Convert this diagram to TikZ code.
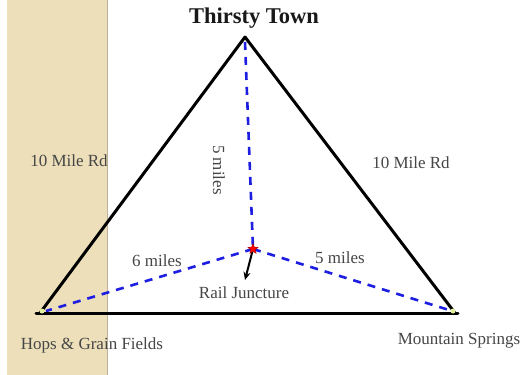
\documentclass[tikz,border=0pt]{standalone}
\usepackage{fontspec}
\setmainfont{Liberation Serif}
\usetikzlibrary{shapes.geometric,arrows.meta}
\definecolor{tan}{RGB}{236,223,186}
\definecolor{roadblue}{RGB}{30,30,225}
\definecolor{labelgray}{RGB}{70,70,70}
\tikzset{
  road/.style={line width=3pt, black, line cap=round, line join=round},
  rail/.style={line width=2.6pt, roadblue, dash pattern=on 8pt off 7pt},
  lbl/.style={font=\fontsize{17}{19}\selectfont, text=labelgray, inner sep=0pt},
  title/.style={font=\bfseries\fontsize{22.5}{24}\selectfont, text=black!90, inner sep=0pt},
  town/.style={circle, fill=yellow!70!green!40, inner sep=0pt, minimum size=5pt},
  junc/.style={star, star points=5, star point ratio=2.3, fill=red, draw=red!60!black, line width=0.3pt, inner sep=0pt, minimum size=11pt}
}
\begin{document}
\begin{tikzpicture}[x=1pt,y=-1pt]
\useasboundingbox (0,0) rectangle (528,375);
\fill[white] (0,0) rectangle (528,375);
\fill[tan] (7,0) rectangle (107,375);
\draw[tan!80!black, line width=0.6pt] (107,0) -- (107,375);

\coordinate (T) at (245,37);
\coordinate (H) at (40,313);
\coordinate (M) at (455,313);
\coordinate (J) at (253,249);
\coordinate (Ttop) at (245,42);
\coordinate (Hin) at (46,311);
\coordinate (Min) at (449,310);
\coordinate (A) at (245,280);

% rail lines
\draw[rail] (Ttop) -- (J);
\draw[rail] (J) -- (Hin);
\draw[rail] (J) -- (Min);

% roads
\draw[road] (H) -- (T) -- (M);
\draw[road] (36,313) -- (458,313);

% endpoints
\node[town] (hdot) at (42,311) {};
\node[town] (mdot) at (453,311) {};

% junction
\draw[line width=2pt, -{Stealth[length=8pt,width=7pt]}] (J) -- (A);
\node[junc] (star) at (J) {};

% labels
\node[title] (tt) at (254,18) {Thirsty Town};
\node[lbl] (l1) at (69,161) {10 Mile Rd};
\node[lbl] (l2) at (411,163) {10 Mile Rd};
\node[lbl, rotate=-90] (l3) at (219,170) {5 miles};
\node[lbl] (l4) at (157,261) {6 miles};
\node[lbl] (l5) at (340,258) {5 miles};
\node[lbl] (l6) at (244,293) {Rail Juncture};
\node[lbl] (l7) at (92,345) {Hops \& Grain Fields};
\node[lbl] (l8) at (459,341) {Mountain Springs};
\end{tikzpicture}
\end{document}
